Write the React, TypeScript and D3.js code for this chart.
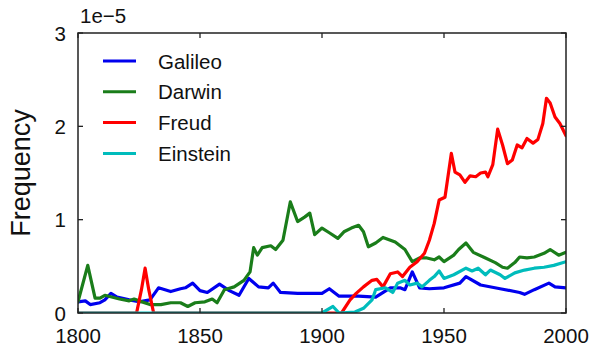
import * as d3 from 'd3'

// values in units of 1e-5
const galileoYears = [1800, 1803, 1805, 1809, 1811, 1813.5, 1816, 1821, 1825, 1829.5, 1833, 1838, 1842, 1844, 1847, 1850, 1853, 1858, 1862, 1866, 1870, 1874, 1878, 1880, 1883, 1890, 1900, 1903, 1907, 1915, 1922, 1928, 1932, 1934, 1937, 1940, 1944, 1950, 1956.5, 1959, 1965, 1973, 1981, 1983, 1987, 1993, 1995.5, 2000]
const galileoValues = [0.12, 0.13, 0.09, 0.11, 0.14, 0.21, 0.17, 0.14, 0.12, 0.14, 0.27, 0.23, 0.26, 0.27, 0.32, 0.24, 0.22, 0.31, 0.24, 0.19, 0.37, 0.28, 0.27, 0.32, 0.22, 0.21, 0.21, 0.26, 0.18, 0.18, 0.17, 0.27, 0.27, 0.25, 0.44, 0.27, 0.26, 0.27, 0.32, 0.39, 0.30, 0.26, 0.22, 0.20, 0.25, 0.32, 0.28, 0.27]

const darwinYears = [1800, 1804, 1807, 1809, 1811, 1817, 1821, 1823, 1825, 1829.5, 1834, 1838, 1842, 1845, 1848, 1852, 1855, 1857, 1860, 1864, 1868, 1870.5, 1872, 1873.5, 1875.5, 1879, 1881, 1884, 1887, 1890, 1893, 1895, 1897, 1900, 1903, 1906.5, 1909, 1912, 1915, 1917, 1919, 1922, 1925, 1930, 1934, 1937, 1940, 1943, 1946, 1948, 1950, 1954, 1956, 1959, 1962, 1967, 1971, 1974, 1976, 1979, 1981, 1984, 1987, 1991, 1993.5, 1997, 2000]
const darwinValues = [0.12, 0.51, 0.16, 0.16, 0.19, 0.15, 0.13, 0.15, 0.13, 0.09, 0.09, 0.11, 0.11, 0.07, 0.11, 0.12, 0.15, 0.11, 0.25, 0.28, 0.35, 0.44, 0.70, 0.62, 0.70, 0.72, 0.68, 0.78, 1.19, 0.98, 1.03, 1.07, 0.84, 0.91, 0.86, 0.80, 0.87, 0.91, 0.94, 0.87, 0.71, 0.75, 0.81, 0.76, 0.68, 0.55, 0.59, 0.59, 0.57, 0.60, 0.55, 0.62, 0.68, 0.75, 0.65, 0.59, 0.54, 0.49, 0.48, 0.54, 0.60, 0.59, 0.60, 0.64, 0.68, 0.62, 0.65]

const freudYears = [1800, 1824, 1826, 1827.5, 1829, 1831, 1908, 1911.5, 1914, 1917, 1920.5, 1922.5, 1925, 1928, 1931, 1933, 1936, 1939, 1942, 1944, 1946, 1948, 1950.4, 1953, 1954.5, 1956.5, 1958.6, 1960.7, 1963, 1965, 1967, 1968, 1970, 1972, 1974, 1976, 1978, 1980, 1982, 1984, 1986.5, 1988.5, 1990.5, 1992, 1993.5, 1995.5, 1997.5, 2000]
const freudValues = [0, 0, 0.25, 0.48, 0.25, 0, 0, 0.14, 0.21, 0.28, 0.35, 0.36, 0.28, 0.42, 0.44, 0.39, 0.49, 0.55, 0.64, 0.78, 0.96, 1.21, 1.24, 1.71, 1.51, 1.48, 1.40, 1.47, 1.46, 1.50, 1.51, 1.46, 1.59, 1.97, 1.80, 1.60, 1.64, 1.80, 1.77, 1.87, 1.82, 1.86, 2.03, 2.30, 2.25, 2.10, 2.03, 1.90]

const einsteinYears = [1800, 1900, 1904.5, 1907, 1913.5, 1917, 1920.5, 1922, 1926, 1929, 1931, 1934, 1936, 1939, 1941, 1944, 1946, 1948, 1950, 1954, 1959, 1961.5, 1964, 1967, 1969, 1973, 1975, 1979, 1983, 1987, 1991, 1995, 2000]
const einsteinValues = [0, 0, 0.07, 0, 0.01, 0.05, 0.14, 0.25, 0.27, 0.22, 0.32, 0.35, 0.30, 0.32, 0.28, 0.35, 0.39, 0.45, 0.37, 0.41, 0.48, 0.45, 0.48, 0.41, 0.46, 0.41, 0.37, 0.43, 0.46, 0.48, 0.49, 0.51, 0.55]

const seriesNames = ['Galileo', 'Darwin', 'Freud', 'Einstein']
const seriesColors = ['#0000ee', '#1a7d1a', '#ff0000', '#00bcbc']
const seriesYears = [galileoYears, darwinYears, freudYears, einsteinYears]
const seriesValues = [galileoValues, darwinValues, freudValues, einsteinValues]

const xTicks = [1800, 1850, 1900, 1950, 2000]
const yTicks = [0, 1, 2, 3]

const FONT = '"Liberation Sans", Arial, sans-serif'

export default function App() {
  const width = 600
  const height = 352
  const m = { left: 78, right: 566, top: 33, bottom: 313 }

  const x = d3.scaleLinear().domain([1800, 2000]).range([m.left, m.right])
  const y = d3.scaleLinear().domain([0, 3]).range([m.bottom, m.top])

  const line = d3.line<[number, number]>()
    .x(d => x(d[0]))
    .y(d => y(d[1]))

  const tickLen = 5

  return (
    <svg width={width} height={height} style={{ position: 'absolute', left: 0, top: 0, background: '#fff' }}>
      <defs>
        <clipPath id="plot-clip">
          <rect x={m.left} y={m.top} width={m.right - m.left} height={m.bottom - m.top} />
        </clipPath>
      </defs>

      <g clipPath="url(#plot-clip)">
        {seriesNames.map((name, i) => {
          const pts = seriesYears[i].map((yr, j) => [yr, seriesValues[i][j]] as [number, number])
          return (
            <path key={name} d={line(pts) ?? ''} fill="none" stroke={seriesColors[i]}
              strokeWidth={3.2} strokeLinejoin="round" strokeLinecap="round" />
          )
        })}
      </g>

      {/* frame */}
      <rect x={m.left} y={m.top} width={m.right - m.left} height={m.bottom - m.top}
        fill="none" stroke="#222" strokeWidth={1.5} />

      {/* x ticks */}
      {xTicks.map(t => (
        <g key={'x' + t}>
          <line x1={x(t)} x2={x(t)} y1={m.bottom} y2={m.bottom - tickLen} stroke="#222" strokeWidth={1.3} />
          <line x1={x(t)} x2={x(t)} y1={m.top} y2={m.top + tickLen} stroke="#222" strokeWidth={1.3} />
          <text x={x(t)} y={343} textAnchor="middle" fontFamily={FONT} fontSize={20.5} fill="#111">{t}</text>
        </g>
      ))}

      {/* y ticks */}
      {yTicks.map(t => (
        <g key={'y' + t}>
          <line x1={m.left} x2={m.left + tickLen} y1={y(t)} y2={y(t)} stroke="#222" strokeWidth={1.3} />
          <line x1={m.right} x2={m.right - tickLen} y1={y(t)} y2={y(t)} stroke="#222" strokeWidth={1.3} />
          <text x={66} y={y(t) + 7.5} textAnchor="end" fontFamily={FONT} fontSize={20.5} fill="#111">{t}</text>
        </g>
      ))}

      <text x={80} y={23} fontFamily={FONT} fontSize={20.5} fill="#111">1e−5</text>

      <text transform={`translate(30,${(m.top + m.bottom) / 2}) rotate(-90)`} textAnchor="middle"
        fontFamily={FONT} fontSize={27} fill="#111">Frequency</text>

      {/* legend */}
      {seriesNames.map((name, i) => {
        const ly = 61 + i * 30.8
        return (
          <g key={'lg' + name}>
            <line x1={103} x2={136} y1={ly} y2={ly} stroke={seriesColors[i]} strokeWidth={3} />
            <text x={158} y={ly + 7.5} fontFamily={FONT} fontSize={20.5} fill="#111">{name}</text>
          </g>
        )
      })}
    </svg>
  )
}
